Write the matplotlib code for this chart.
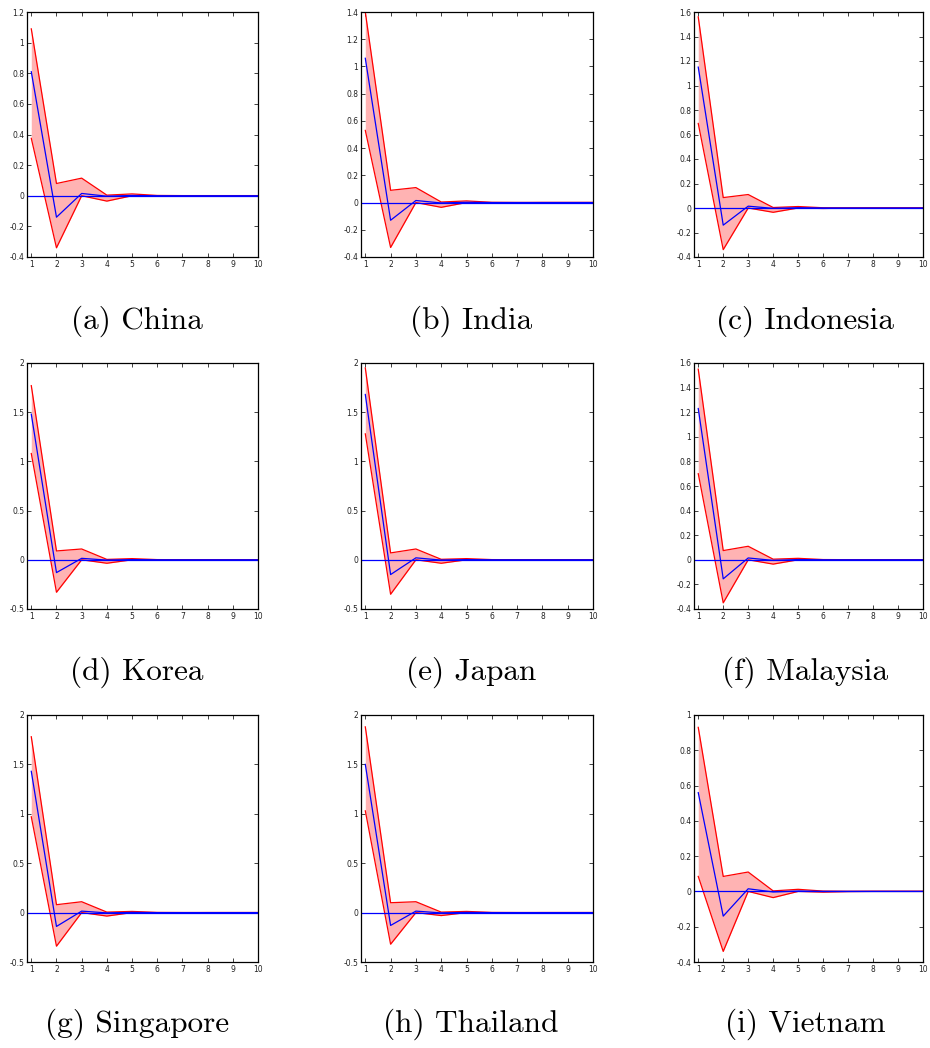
import matplotlib.pyplot as plt
import numpy as np

# impulse responses, horizon 1..10
steps = np.arange(1, 11)

countries = ["China", "India", "Indonesia", "Korea", "Japan",
             "Malaysia", "Singapore", "Thailand", "Vietnam"]
letters = ["a", "b", "c", "d", "e", "f", "g", "h", "i"]

tail_up = [0.012, 0.002, 0.001, 0.001, 0.001, 0.001]
tail_mid = [0.002, 0.0, 0.0, 0.0, 0.0, 0.0]
tail_lo = [0.0, -0.004, -0.001, 0.0, 0.0, 0.0]

upper = {
    "China":     [1.09, 0.08, 0.115, 0.004] + tail_up,
    "India":     [1.40, 0.09, 0.11, 0.004] + tail_up,
    "Indonesia": [1.56, 0.085, 0.11, 0.004] + tail_up,
    "Korea":     [1.77, 0.09, 0.11, 0.004] + tail_up,
    "Japan":     [1.95, 0.07, 0.11, 0.005] + tail_up,
    "Malaysia":  [1.55, 0.075, 0.11, 0.005] + tail_up,
    "Singapore": [1.78, 0.08, 0.11, 0.005] + tail_up,
    "Thailand":  [1.88, 0.10, 0.11, 0.005] + tail_up,
    "Vietnam":   [0.93, 0.085, 0.11, 0.003] + tail_up,
}
mean = {
    "China":     [0.81, -0.14, 0.015, -0.003] + tail_mid,
    "India":     [1.06, -0.13, 0.015, -0.003] + tail_mid,
    "Indonesia": [1.15, -0.14, 0.015, -0.003] + tail_mid,
    "Korea":     [1.48, -0.13, 0.015, -0.003] + tail_mid,
    "Japan":     [1.68, -0.15, 0.02, -0.003] + tail_mid,
    "Malaysia":  [1.23, -0.155, 0.015, -0.005] + tail_mid,
    "Singapore": [1.43, -0.14, 0.015, -0.003] + tail_mid,
    "Thailand":  [1.50, -0.13, 0.015, -0.003] + tail_mid,
    "Vietnam":   [0.56, -0.14, 0.015, -0.003] + tail_mid,
}
lower = {
    "China":     [0.375, -0.34, 0.0, -0.035] + tail_lo,
    "India":     [0.53, -0.33, 0.0, -0.035] + tail_lo,
    "Indonesia": [0.69, -0.34, 0.0, -0.035] + tail_lo,
    "Korea":     [1.08, -0.33, 0.0, -0.035] + tail_lo,
    "Japan":     [1.28, -0.35, 0.0, -0.035] + tail_lo,
    "Malaysia":  [0.70, -0.35, 0.0, -0.035] + tail_lo,
    "Singapore": [0.97, -0.34, 0.0, -0.035] + tail_lo,
    "Thailand":  [1.03, -0.32, 0.0, -0.03] + tail_lo,
    "Vietnam":   [0.085, -0.34, 0.0, -0.035] + tail_lo,
}
ylims = {
    "China": (-0.4, 1.2, 0.2), "India": (-0.4, 1.4, 0.2),
    "Indonesia": (-0.4, 1.6, 0.2), "Korea": (-0.5, 2.0, 0.5),
    "Japan": (-0.5, 2.0, 0.5), "Malaysia": (-0.4, 1.6, 0.2),
    "Singapore": (-0.5, 2.0, 0.5), "Thailand": (-0.5, 2.0, 0.5),
    "Vietnam": (-0.4, 1.0, 0.2),
}

W, H = 930, 1048
fig = plt.figure(figsize=(W / 100, H / 100), dpi=100)

col_x = [(27, 258), (361, 593), (694, 923)]
row_y = [(12, 257), (363, 609), (715, 962)]
cap_x = [137, 471, 805]
cap_y = [321, 672, 1024]

for k, name in enumerate(countries):
    r, c = divmod(k, 3)
    x0, x1 = col_x[c]
    y0, y1 = row_y[r]
    ax = fig.add_axes([x0 / W, 1 - y1 / H, (x1 - x0) / W, (y1 - y0) / H])
    up = np.array(upper[name])
    lo = np.array(lower[name])
    ax.fill_between(steps, lo, up, color="#ffb3b3", lw=0)
    ax.plot(steps, up, color="#ff0000", lw=0.9)
    ax.plot(steps, lo, color="#ff0000", lw=0.9)
    ax.axhline(0, color="#0000ff", lw=0.9)
    ax.plot(steps, mean[name], color="#0000ff", lw=0.9)
    lo_y, hi_y, st = ylims[name]
    ax.set_xlim(0.83, 10)
    ax.set_ylim(lo_y, hi_y)
    ax.set_xticks(steps)
    yt = np.round(np.arange(lo_y, hi_y + st / 2, st), 2)
    ax.set_yticks(yt)
    ax.set_yticklabels(["%g" % v for v in yt])
    ax.tick_params(direction="in", top=True, right=True, length=3, width=0.6,
                   labelsize=5.5, pad=2, colors="#222222")
    for s in ax.spines.values():
        s.set_linewidth(0.9)
    fig.text(cap_x[c] / W, 1 - cap_y[r] / H, "(%s) %s" % (letters[k], name),
             ha="center", va="center", fontsize=22.5, family="cmr10")

fig.savefig("out.png", dpi=100)
